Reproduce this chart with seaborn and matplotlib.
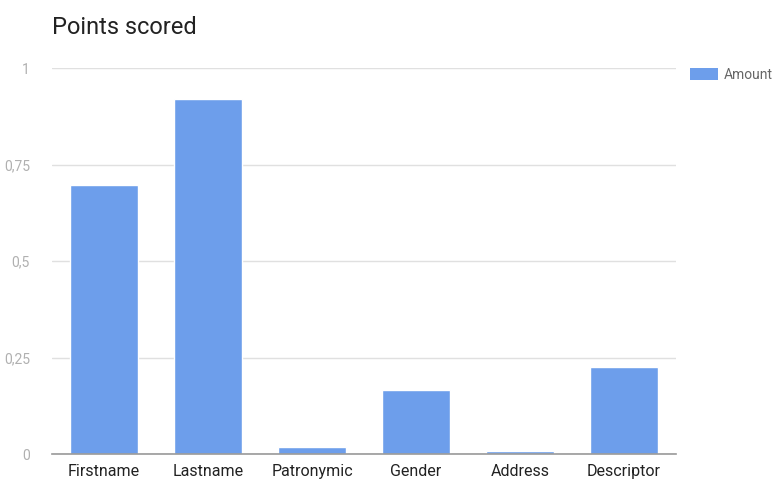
import matplotlib
matplotlib.use("Agg")
import matplotlib.pyplot as plt
import seaborn as sns
import pandas as pd
from matplotlib.patches import Patch

categories = ["Firstname", "Lastname", "Patronymic", "Gender", "Address", "Descriptor"]
amounts = [0.697, 0.920, 0.018, 0.165, 0.008, 0.226]
y_ticks = [0, 0.25, 0.5, 0.75, 1]
y_tick_labels = ["0", "0,25", "0,5", "0,75", "1"]

sns.set_theme(style="white")
plt.rcParams["font.family"] = ["Roboto", "DejaVu Sans"]

df = pd.DataFrame({"category": categories, "Amount": amounts})

fig = plt.figure(figsize=(7.79, 4.79), dpi=100)
ax = fig.add_axes([52/779, 1-454/479, (676-52)/779, (454-68)/479])

color = "#6d9eeb"
sns.barplot(data=df, x="category", y="Amount", color=color, width=0.65,
            saturation=1, ax=ax, zorder=3)

ax.set_ylim(0, 1)
ax.set_xlim(-0.5, len(categories) - 0.5)
ax.set_yticks(y_ticks)
ax.set_yticklabels(y_tick_labels)
ax.yaxis.grid(True, color="#e0e0e0", linewidth=1, zorder=0)
ax.set_axisbelow(True)
for s in ["top", "right", "left"]:
    ax.spines[s].set_visible(False)
ax.spines["bottom"].set_color("#999999")
ax.spines["bottom"].set_linewidth(1.2)
ax.spines["bottom"].set_zorder(4)
ax.tick_params(axis="y", length=0, labelsize=10, labelcolor="#b0b0b0", pad=16)
ax.tick_params(axis="x", length=0, labelsize=11.5, labelcolor="#222222", pad=7)
ax.set_xlabel("")
ax.set_ylabel("")

fig.text(52/779, 1-27/479, "Points scored", fontsize=17, color="#222222",
         va="center", ha="left")

handle = Patch(facecolor=color, edgecolor="none", label="Amount")
fig.legend(handles=[handle], loc="upper left", bbox_to_anchor=(690/779, 1-68/479),
           frameon=False, fontsize=10, labelcolor="#666666",
           handlelength=2.0, handleheight=0.9, handletextpad=0.4, borderaxespad=0,
           borderpad=0)

fig.savefig("out.png", dpi=100)
